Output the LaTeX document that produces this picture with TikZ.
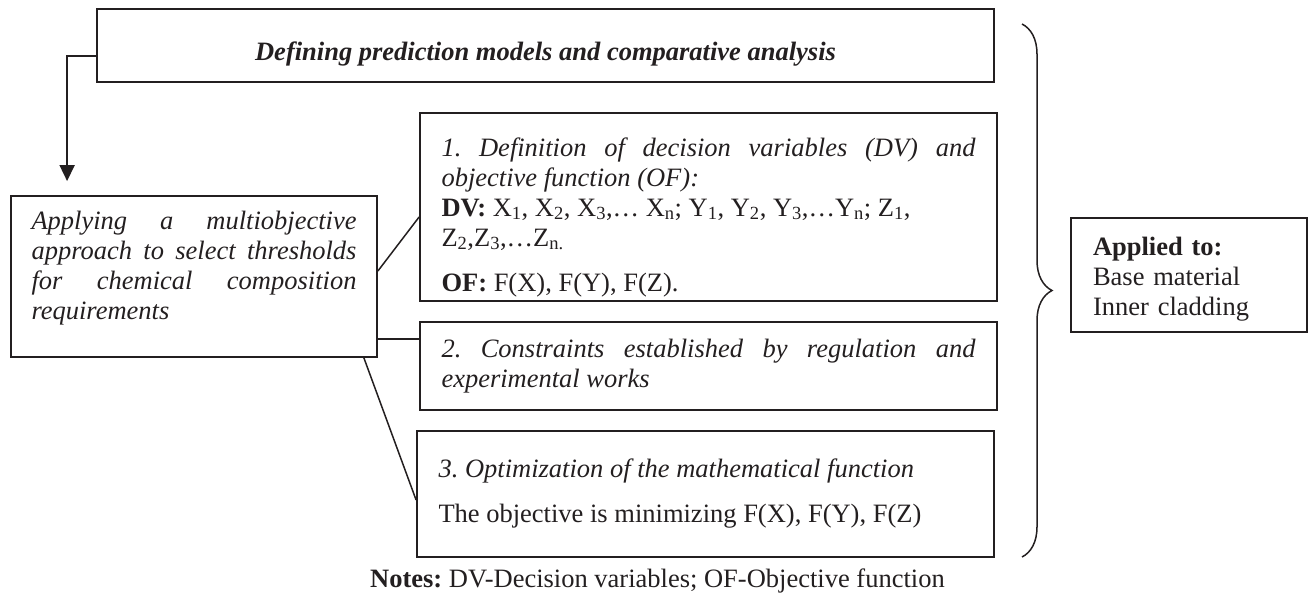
\documentclass[tikz,border=0pt]{standalone}
\usepackage{fontspec}
\setmainfont{Liberation Serif}
\usetikzlibrary{arrows.meta,decorations.pathreplacing,calc}
\definecolor{ink}{RGB}{35,31,32}
\tolerance=9999
\hyphenpenalty=10000
\exhyphenpenalty=10000
\frenchspacing
\begin{document}
\begin{tikzpicture}[x=1pt,y=-1pt,
  font=\fontsize{26.5}{30}\selectfont,
  box/.style={draw=ink, line width=1.8pt, inner sep=0pt, text=ink},
  stepbox/.style={box, text width=534pt, inner xsep=21.5pt, align=justify},
  conn/.style={draw=ink, line width=1.5pt},
  arrowline/.style={draw=ink, line width=1.7pt, -{Triangle[length=16pt,width=15pt]}}]
\useasboundingbox (0,0) rectangle (1312,603);

% headline box
\node[box, minimum width=897pt, minimum height=73pt, text height=35pt, text depth=6pt,
      font=\fontsize{26.5}{30}\selectfont\bfseries\itshape] (top) at (545.5,45.5)
  {Defining prediction models and comparative analysis};

% multiobjective approach
\node[box, text width=325pt, inner xsep=20.5pt, minimum height=161pt, align=justify] (left) at (194,276.5)
  {\itshape Applying a multiobjective\linebreak approach to select thresholds\linebreak for chemical composition\linebreak requirements\par\vspace*{16pt}};

% the three steps
\node[stepbox, minimum height=188pt] (b1) at (708.5,207)
  {\itshape\rule{0pt}{39pt}1. Definition of decision variables (DV) and\linebreak objective function (OF):\par
   \upshape\textbf{DV:} X\textsubscript{1}, X\textsubscript{2}, X\textsubscript{3},… X\textsubscript{n}; Y\textsubscript{1}, Y\textsubscript{2}, Y\textsubscript{3},…Y\textsubscript{n}; Z\textsubscript{1},\\
   Z\textsubscript{2},Z\textsubscript{3},…Z\textsubscript{n.}\\[15pt]
   \textbf{OF:} F(X), F(Y), F(Z).};

\node[stepbox, minimum height=88pt] (b2) at (708.5,366)
  {\itshape 2. Constraints established by regulation and\linebreak experimental works};

\node[stepbox, minimum height=126pt] (b3) at (705.5,494)
  {\itshape 3. Optimization of the mathematical function\\[15pt]
   \upshape The objective is minimizing F(X), F(Y), F(Z)};

% scope of application
\node[box, text width=192pt, inner xsep=22pt, minimum height=114pt, align=left] (app) at (1189,275)
  {\rule{0pt}{27pt}\textbf{Applied to:}\\ Base material\\ Inner cladding};

% connectors
\draw[arrowline, shorten >=14pt] ([yshift=-10.2pt]top.west) -| ([xshift=57pt]left.north west);
\draw[conn] ([yshift=5.5pt]left.east) -- ([yshift=-10pt]b1.west);
\draw[conn] ([yshift=-62.5pt]left.east) -- ([yshift=27pt]b2.west);
\draw[conn] ([xshift=-14pt]left.south east) -- ([yshift=-6pt]b3.west);

% brace grouping all boxes
\coordinate (braceTop) at (1022,24);
\coordinate (braceBot) at (1022,557);
\draw[ink, line width=1.5pt, decorate, decoration={brace, amplitude=30pt}] (braceTop) -- (braceBot);

% notes line
\node[anchor=base west, inner sep=0pt, text=ink] (notes) at (370,587)
  {\textbf{Notes:} DV-Decision variables; OF-Objective function};
\end{tikzpicture}
\end{document}
